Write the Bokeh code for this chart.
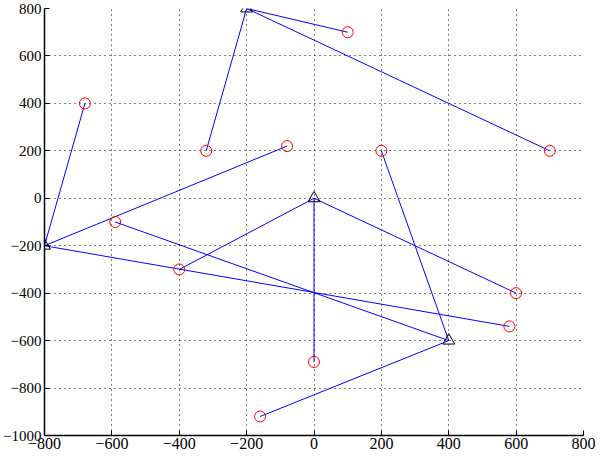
from bokeh.plotting import figure
from bokeh.models import FixedTicker, ColumnDataSource
from bokeh.embed import file_html
from bokeh.resources import INLINE

# Data
tri_x = [-800, -200, 0, 400]
tri_y = [-200, 800, 0, -600]
circ_x = [-680, -80, 580, -320, 100, 700, -400, 600, 0, 200, -160, -590]
circ_y = [400, 220, -540, 200, 700, 200, -300, -400, -690, 200, -920, -100]
link = [0, 0, 0, 1, 1, 1, 2, 2, 2, 3, 3, 3]

x_ticks = [-800, -600, -400, -200, 0, 200, 400, 600, 800]
y_ticks = [-1000, -800, -600, -400, -200, 0, 200, 400, 600, 800]

FONT = "Liberation Sans Narrow"

p = figure(width=596, height=454, x_range=(-800, 800), y_range=(-1000, 800),
           output_backend="svg", toolbar_location=None,
           min_border_left=0, min_border_right=13, min_border_top=8, min_border_bottom=19)
p.outline_line_color = None
p.background_fill_color = "white"
p.border_fill_color = "white"

for ax, ticks in ((p.xaxis[0], x_ticks), (p.yaxis[0], y_ticks)):
    ax.ticker = FixedTicker(ticks=ticks)
    ax.minor_tick_line_color = None
    ax.major_tick_in = 5
    ax.major_tick_out = 0
    ax.axis_line_width = 1.5
    ax.axis_line_color = "black"
    ax.major_tick_line_color = "black"
    ax.major_label_text_font = FONT
    ax.major_label_text_color = "black"
p.xaxis.major_label_text_font_size = "16px"
p.yaxis.major_label_text_font_size = "15px"
p.xaxis.major_label_standoff = 2
p.yaxis.major_label_standoff = 3

p.xgrid.ticker = FixedTicker(ticks=x_ticks)
p.ygrid.ticker = FixedTicker(ticks=y_ticks)
for g in (p.xgrid[0], p.ygrid[0]):
    g.grid_line_color = "black"
    g.grid_line_dash = "1 4"
    g.grid_line_width = 1

src = ColumnDataSource(dict(
    x0=[tri_x[i] for i in link], y0=[tri_y[i] for i in link],
    x1=circ_x, y1=circ_y))
p.segment(x0="x0", y0="y0", x1="x1", y1="y1", source=src,
          line_color="#0000ff", line_width=1)

p.scatter(circ_x, circ_y, marker="circle", size=11, fill_color=None,
          line_color="#ff0000", line_width=1)
p.scatter(tri_x, tri_y, marker="triangle", size=12, fill_color=None,
          line_color="black", line_width=1)

open("out.html", "w").write(file_html(p, INLINE))
